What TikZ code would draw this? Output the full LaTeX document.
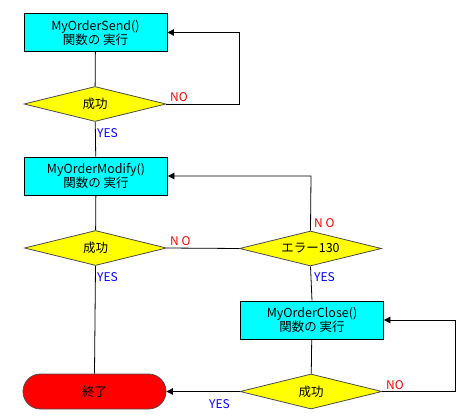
\documentclass[tikz,border=0pt]{standalone}
\usepackage{fontspec}
\setmainfont{Noto Sans CJK JP}
\usetikzlibrary{shapes.geometric,shapes.misc,arrows.meta}
\definecolor{boxc}{HTML}{00FFFF}
\definecolor{decc}{HTML}{FFFF00}
\definecolor{endc}{HTML}{FF0000}
\definecolor{noc}{HTML}{FF0000}
\definecolor{yesc}{HTML}{0000FF}
\begin{document}
\begin{tikzpicture}[x=1pt,y=-1pt,
  font=\fontsize{12.5}{14}\selectfont,
  procbox/.style={draw=black,fill=boxc,minimum width=143pt,minimum height=38pt,inner sep=0pt,align=center,line width=0.8pt},
  decbox/.style={diamond,draw=black!70,fill=decc,minimum width=142pt,minimum height=35pt,inner sep=0pt,aspect=4,line width=0.8pt},
  endbox/.style={rounded rectangle,draw=black!70,fill=endc,minimum width=143pt,minimum height=35pt,inner sep=0pt,line width=0.8pt},
  conn/.style={draw=black,line width=0.8pt},
  arr/.style={conn,-{Triangle[length=6.5pt,width=6.5pt]}},
  nolab/.style={text=noc,font=\fontsize{12}{13}\selectfont,inner sep=0pt},
  yeslab/.style={text=yesc,font=\fontsize{12}{13}\selectfont,inner sep=0pt}]
\useasboundingbox (0,0) rectangle (472,420);
\node[procbox] (b1) at (95.5,32.5) {MyOrderSend()\\関数の 実行};
\node[decbox] (d1) at (95,104) {成功};
\node[procbox] (b2) at (96,176) {MyOrderModify()\\関数の 実行};
\node[decbox] (d2) at (95.5,248) {成功};
\node[decbox] (d3) at (310.5,248.5) {エラー130};
\node[procbox] (b3) at (312,320) {MyOrderClose()\\関数の 実行};
\node[decbox] (d4) at (311,391.5) {成功};
\node[endbox] (e) at (94.5,391.5) {終了};
\coordinate (c1) at (239,32.5);
\coordinate (c2) at (311,176);
\coordinate (c3) at (455,320);
% connectors
\draw[conn] (b1) -- (d1);
\draw[conn] (d1) -- (b2);
\draw[arr] (d1.east) -| (c1) -- (b1.east);
\draw[conn] (b2) -- (d2);
\draw[conn] (d2.south) -- (e.north);
\draw[conn] (d2.east) -- (d3.west);
\draw[arr] (d3.north) -- (c2) -- (b2.east);
\draw[conn] (d3.south) -- (b3.north);
\draw[conn] (b3) -- (d4);
\draw[arr] (d4.east) -| (c3) -- (b3.east);
\draw[arr] (d4.west) -- (e.east);
% labels
\node[nolab,anchor=west] (n1) at (170,97) {NO};
\node[yeslab,anchor=west] (y1) at (97,133) {YES};
\node[nolab,anchor=west] (n2) at (170,241) {N O};
\node[yeslab,anchor=west] (y2) at (97,277) {YES};
\node[nolab,anchor=west] (n3) at (314,223) {N O};
\node[yeslab,anchor=west] (y3) at (314,277) {YES};
\node[nolab,anchor=west] (n4) at (386,385) {NO};
\node[yeslab,anchor=west] (y4) at (209,404) {YES};
\end{tikzpicture}
\end{document}
